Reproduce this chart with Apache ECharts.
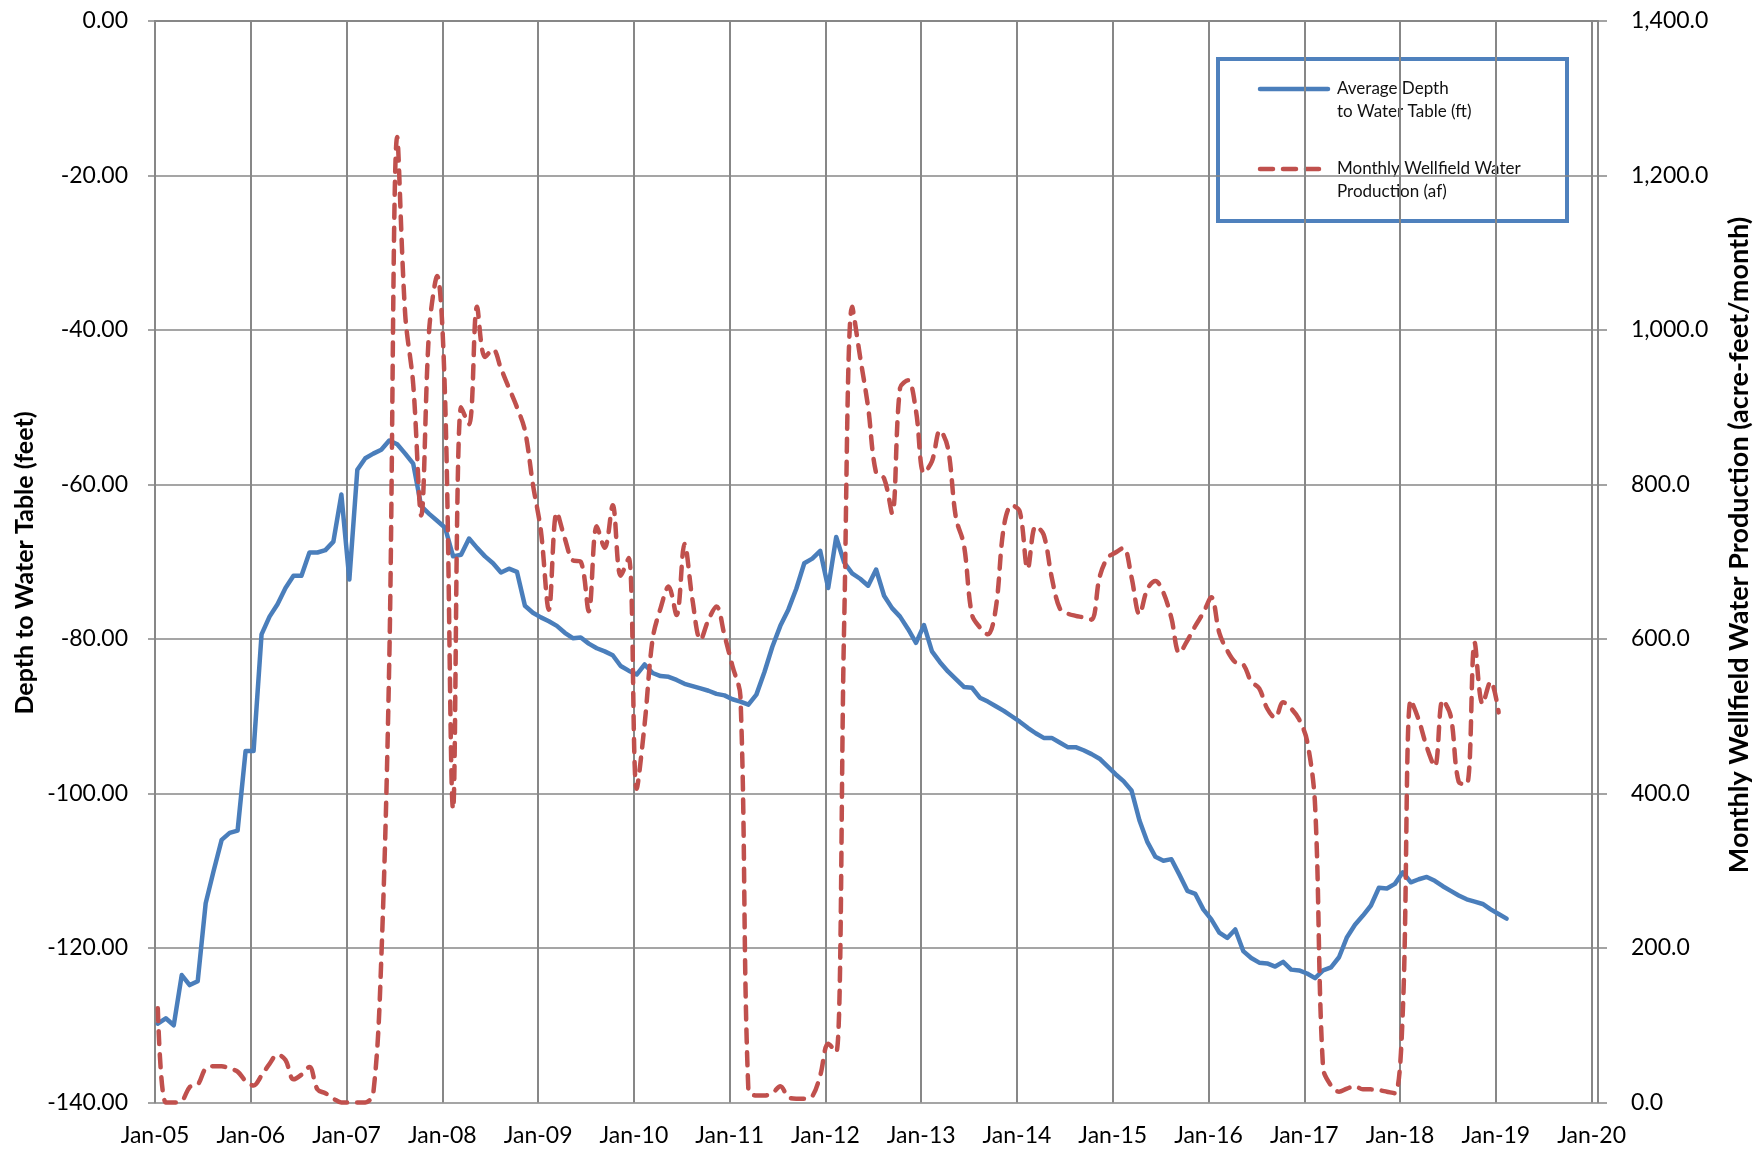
<!DOCTYPE html>
<html>
<head>
<meta charset="utf-8">
<script src="https://cdn.jsdelivr.net/npm/echarts@6/dist/echarts.min.js"></script>
<style>
html,body{margin:0;padding:0;background:#ffffff;}
#chart{width:1758px;height:1152px;}
</style>
</head>
<body>
<div id="chart"></div>
<script>
// ---- Data (monthly, starting Jan 2005) ----
const xTickLabels = ['Jan-05','Jan-06','Jan-07','Jan-08','Jan-09','Jan-10','Jan-11','Jan-12','Jan-13','Jan-14','Jan-15','Jan-16','Jan-17','Jan-18','Jan-19','Jan-20'];

// Average depth to water table (ft), one value per month from Jan-05
const depthFt = [
  -129.8, -129.1, -130.0, -123.5, -124.8, -124.3, -114.2, -110.0, -106.0, -105.1, -104.8, -94.5,
  -94.5, -79.4, -77.1, -75.5, -73.4, -71.8, -71.8, -68.8, -68.8, -68.5, -67.4, -61.3,
  -72.3, -58.1, -56.6, -56.0, -55.5, -54.3, -54.8, -56.0, -57.3, -62.8, -63.8, -64.7,
  -65.6, -69.3, -69.1, -67.0, -68.2, -69.3, -70.2, -71.4, -70.9, -71.3, -75.7, -76.6,
  -77.2, -77.7, -78.3, -79.2, -79.9, -79.8, -80.6, -81.2, -81.6, -82.1, -83.5, -84.1,
  -84.6, -83.3, -84.4, -84.8, -84.9, -85.3, -85.8, -86.1, -86.4, -86.7, -87.1, -87.3,
  -87.8, -88.1, -88.5, -87.2, -84.3, -81.0, -78.3, -76.2, -73.5, -70.2, -69.6, -68.6,
  -73.4, -66.8, -70.1, -71.5, -72.2, -73.1, -71.0, -74.4, -76.0, -77.1, -78.7, -80.5,
  -78.2, -81.6, -83.0, -84.2, -85.2, -86.2, -86.3, -87.6, -88.1, -88.7, -89.3, -90.0,
  -90.7, -91.5, -92.2, -92.8, -92.8, -93.4, -94.0, -94.0, -94.4, -94.9, -95.5, -96.5,
  -97.5, -98.4, -99.6, -103.5, -106.3, -108.2, -108.7, -108.5, -110.5, -112.6, -113.0, -115.0,
  -116.3, -118.0, -118.7, -117.6, -120.4, -121.3, -121.9, -122.0, -122.4, -121.8, -122.8, -122.9,
  -123.3, -123.9, -122.9, -122.5, -121.2, -118.6, -117.0, -115.8, -114.5, -112.2, -112.3, -111.7,
  -110.2, -111.5, -111.1, -110.8, -111.3, -112.0, -112.6, -113.2, -113.7, -114.0, -114.3, -115.0,
  -115.6, -116.2
];

// Monthly wellfield water production (acre-feet), one value per month from Jan-05
const productionAf = [
  122, 0, 0, 2, 20, 23, 44, 47, 47, 44, 40, 28,
  22, 35, 50, 62, 55, 30, 36, 46, 17, 12, 5, 0,
  0, 0, 0, 12, 185, 570, 1250, 1020, 930, 760, 1000, 1070,
  910, 380, 900, 878, 1030, 965, 975, 950, 925, 900, 870, 800,
  740, 638, 764, 730, 702, 700, 636, 746, 718, 773, 682, 705,
  406, 490, 600, 640, 668, 631, 723, 650, 599, 625, 642, 605,
  565, 526, 15, 9, 9, 12, 21, 7, 5, 5, 8, 35,
  76, 65, 620, 1030, 965, 900, 815, 808, 763, 925, 935, 895,
  815, 830, 870, 847, 757, 722, 632, 615, 606, 640, 745, 773,
  765, 691, 746, 735, 680, 640, 633, 630, 628, 625, 680, 705,
  712, 718, 680, 632, 665, 675, 660, 627, 582, 598, 617, 634,
  654, 608, 585, 570, 567, 545, 536, 510, 498, 518, 510, 496,
  468, 385, 45, 22, 14, 18, 21, 17, 17, 16, 14, 12,
  120, 521, 495, 460, 435, 521, 500, 415, 412, 595, 516, 545,
  505
];

const seriesNames = ['Average Depth\nto Water Table (ft)', 'Monthly Wellfield Water\nProduction (af)'];
const leftAxisTitle = 'Depth to Water Table (feet)';
const rightAxisTitle = 'Monthly Wellfield Water Production (acre-feet/month)';

// readings taken roughly a third of the way into each month
const dayFraction = 0.35;
const toPoints = arr => arr.map((v, i) => [i + dayFraction, v]);

const BLUE = '#4A7EBB';
const RED = '#C0504D';
const GRID = '#878787';
const FONT = 'Lato';

const chart = echarts.init(document.getElementById('chart'));
chart.setOption({
  animation: false,
  backgroundColor: '#ffffff',
  textStyle: { fontFamily: FONT },
  grid: { left: 155, right: 160, top: 21, bottom: 49.5, containLabel: false },
  xAxis: {
    type: 'value', min: 0, max: 180.8, interval: 12,
    axisLine: { show: true, lineStyle: { color: GRID, width: 2 } },
    axisTick: { show: false },
    splitLine: { show: true, lineStyle: { color: GRID, width: 2 } },
    axisLabel: {
      formatter: v => (Math.abs(v % 12) < 1e-6 ? xTickLabels[Math.round(v / 12)] : ''),
      color: '#000', fontSize: 23, margin: 22, fontFamily: FONT
    }
  },
  yAxis: [
    {
      type: 'value', min: -140, max: 0, interval: 20, position: 'left',
      axisLine: { show: true, lineStyle: { color: GRID, width: 2 } },
      axisTick: { show: true, length: 7, lineStyle: { color: GRID, width: 1.5 } },
      splitLine: { show: true, lineStyle: { color: GRID, width: 1.5 } },
      axisLabel: { formatter: v => v.toFixed(2), color: '#000', fontSize: 23, margin: 27, fontFamily: FONT }
    },
    {
      type: 'value', min: 0, max: 1400, interval: 200, position: 'right',
      axisLine: { show: true, lineStyle: { color: GRID, width: 1.5 } },
      axisTick: { show: true, length: 9, lineStyle: { color: GRID, width: 1.5 } },
      splitLine: { show: false },
      axisLabel: {
        formatter: v => v.toLocaleString('en-US', { minimumFractionDigits: 1, maximumFractionDigits: 1 }),
        color: '#000', fontSize: 23, margin: 33, fontFamily: FONT
      }
    }
  ],
  series: [
    {
      name: seriesNames[0], type: 'line', yAxisIndex: 0, data: toPoints(depthFt),
      symbol: 'none', clip: false,
      lineStyle: { color: BLUE, width: 4.5, join: 'round', cap: 'round' }
    },
    {
      name: seriesNames[1], type: 'line', yAxisIndex: 1, data: toPoints(productionAf),
      symbol: 'none', clip: false, smooth: 0.35,
      lineStyle: { color: RED, width: 4.5, type: [13, 10], cap: 'round', join: 'round' }
    }
  ],
  graphic: [
    {
      type: 'text', x: 25, y: 563, rotation: Math.PI / 2, z: 10,
      style: { text: leftAxisTitle, font: 'bold 25px Lato', fill: '#000', align: 'center', verticalAlign: 'middle' }
    },
    {
      type: 'text', x: 1739, y: 545, rotation: Math.PI / 2, z: 10,
      style: { text: rightAxisTitle, font: 'bold 27px Lato', fill: '#000', align: 'center', verticalAlign: 'middle' }
    },
    {
      type: 'group', z: 20,
      children: [
        { type: 'rect', shape: { x: 1218, y: 59, width: 349, height: 162 },
          style: { fill: '#fff', stroke: '#4F81BD', lineWidth: 4 } },
        { type: 'line', shape: { x1: 1260, y1: 89, x2: 1328, y2: 89 },
          style: { stroke: BLUE, lineWidth: 4.5, lineCap: 'round' } },
        { type: 'text', x: 1337, y: 77.5,
          style: { text: seriesNames[0], font: '17px Lato', fill: '#111', lineHeight: 23, align: 'left', verticalAlign: 'top' } },
        { type: 'line', shape: { x1: 1260, y1: 169, x2: 1322, y2: 169 },
          style: { stroke: RED, lineWidth: 4.5, lineCap: 'round', lineDash: [13, 10] } },
        { type: 'text', x: 1337, y: 157.5,
          style: { text: seriesNames[1], font: '17px Lato', fill: '#111', lineHeight: 23, align: 'left', verticalAlign: 'top' } }
      ]
    }
  ]
});
</script>
</body>
</html>
